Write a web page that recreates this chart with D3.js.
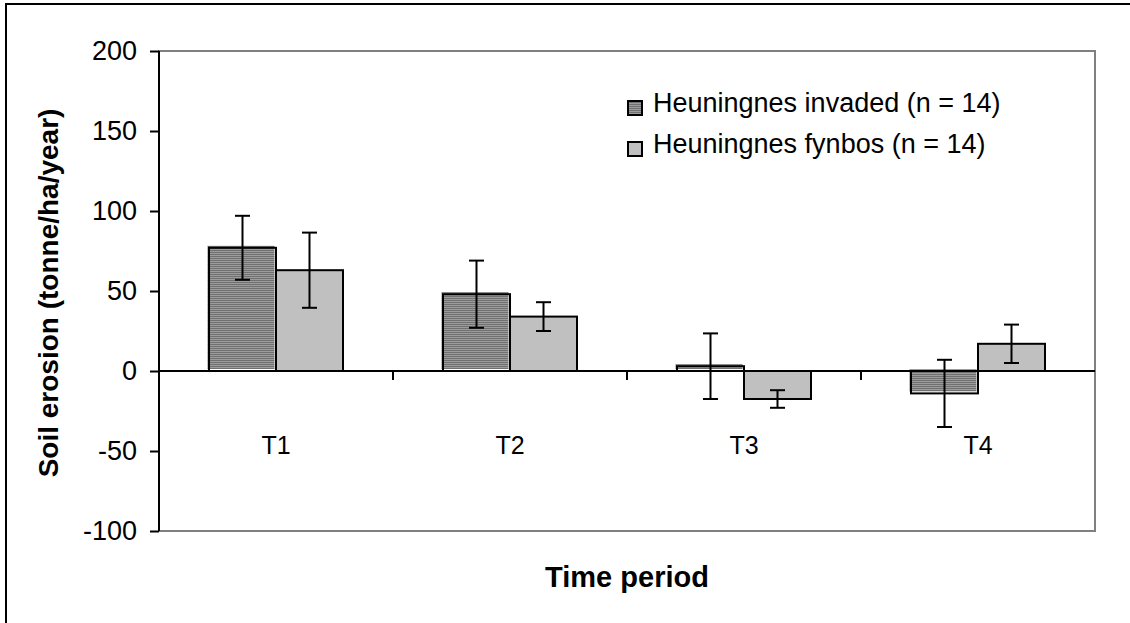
<!DOCTYPE html>
<html>
<head>
<meta charset="utf-8">
<script src="https://cdn.jsdelivr.net/npm/d3@7"></script>
<style>
  html, body { margin: 0; padding: 0; background: #fff; }
  svg { display: block; font-family: "Liberation Sans", Arial, sans-serif; }
</style>
</head>
<body>
<svg id="chart" width="1130" height="623"></svg>
<script>
const categories = ["T1", "T2", "T3", "T4"];
const seriesNames = ["Heuningnes invaded (n = 14)", "Heuningnes fynbos (n = 14)"];
const invaded = [77, 48, 3, -14];
const invadedErr = [20, 21, 20.5, 21];
const fynbos = [63, 34, -17.5, 17];
const fynbosErr = [23.5, 9, 5.5, 12];
const yTicks = [-100, -50, 0, 50, 100, 150, 200];

const svg = d3.select("#chart");
const pLeft = 159, pRight = 1095, pTop = 51, pBottom = 531;

// pattern for dark bars
const defs = svg.append("defs");
const pat = defs.append("pattern").attr("id", "hatch")
  .attr("patternUnits", "userSpaceOnUse").attr("width", 4).attr("height", 2);
pat.append("rect").attr("width", 4).attr("height", 1).attr("fill", "#707070");
pat.append("rect").attr("y", 1).attr("width", 4).attr("height", 1).attr("fill", "#9c9c9c");

// outer border
svg.append("rect").attr("x", 6).attr("y", 4).attr("width", 1140).attr("height", 640)
  .attr("fill", "none").attr("stroke", "#000").attr("stroke-width", 2);

const x = d3.scaleBand().domain(categories).range([pLeft, pRight]).padding(0);
const y = d3.scaleLinear().domain([-100, 200]).range([pBottom, pTop]);

// plot area border (grey)
svg.append("rect").attr("x", pLeft).attr("y", pTop).attr("width", pRight - pLeft).attr("height", pBottom - pTop)
  .attr("fill", "none").attr("stroke", "#808080").attr("stroke-width", 2);

const barW = 67;
const series = [
  { vals: invaded, errs: invadedErr, fill: "url(#hatch)", off: -barW, offset: true },
  { vals: fynbos, errs: fynbosErr, fill: "#c0c0c0", off: 0, offset: false }
];

series.forEach(s => {
  const g = svg.append("g");
  categories.forEach((c, i) => {
    const cx = x(c) + x.bandwidth() / 2;
    const v = s.vals[i];
    const y0 = y(Math.max(0, v)), y1 = y(Math.min(0, v));
    const dx = s.offset ? -1.5 : 0, dy = s.offset ? -2 : 0;
    g.append("rect").attr("x", cx + s.off + dx).attr("y", y0 + dy)
      .attr("width", barW).attr("height", y1 - y0)
      .attr("fill", s.fill);
    g.append("rect").attr("x", cx + s.off).attr("y", y0)
      .attr("width", barW).attr("height", y1 - y0)
      .attr("fill", "none").attr("stroke", "#000").attr("stroke-width", 2);
  });
});

// zero axis with category labels
const xAxis = svg.append("g").attr("transform", `translate(0,${y(0)})`)
  .call(d3.axisBottom(x).tickSize(0).tickPadding(65));
xAxis.select(".domain").attr("stroke", "#000").attr("stroke-width", 2).attr("d", `M${pLeft},0H${pRight}`);
xAxis.selectAll("text").attr("font-size", 25).attr("fill", "#000")
  .attr("font-family", "Liberation Sans, Arial, sans-serif");
// boundary ticks
categories.slice(0, -1).forEach(c => {
  const bx = x(c) + x.bandwidth();
  xAxis.append("line").attr("x1", bx).attr("x2", bx).attr("y1", 0).attr("y2", 9)
    .attr("stroke", "#000").attr("stroke-width", 2);
});

// error bars
series.forEach(s => {
  const g = svg.append("g");
  categories.forEach((c, i) => {
    const cx = x(c) + x.bandwidth() / 2 + s.off + barW / 2;
    const v = s.vals[i], e = s.errs[i];
    g.append("line").attr("x1", cx).attr("x2", cx).attr("y1", y(v + e)).attr("y2", y(v - e))
      .attr("stroke", "#000").attr("stroke-width", 2);
    [v + e, v - e].forEach(t => {
      g.append("line").attr("x1", cx - 7.5).attr("x2", cx + 7.5).attr("y1", y(t)).attr("y2", y(t))
        .attr("stroke", "#000").attr("stroke-width", 2);
    });
  });
});

// y axis
const yAxis = svg.append("g").attr("transform", `translate(${pLeft},0)`)
  .call(d3.axisLeft(y).tickValues(yTicks).tickSize(9).tickPadding(13).tickFormat(d => String(d)));
yAxis.select(".domain").attr("stroke", "#000").attr("stroke-width", 2).attr("d", `M0,${pTop}V${pBottom}`);
yAxis.selectAll(".tick line").attr("stroke", "#000").attr("stroke-width", 2);
yAxis.selectAll("text").attr("font-size", 27).attr("fill", "#000")
  .attr("font-family", "Liberation Sans, Arial, sans-serif");

// axis titles
svg.append("text").attr("transform", `translate(58,${(pTop + pBottom) / 2 + 2}) rotate(-90)`)
  .attr("text-anchor", "middle").attr("font-weight", "bold").attr("font-size", 28)
  .text("Soil erosion (tonne/ha/year)");
svg.append("text").attr("x", (pLeft + pRight) / 2).attr("y", 587)
  .attr("text-anchor", "middle").attr("font-weight", "bold").attr("font-size", 29)
  .text("Time period");

// legend
const legend = svg.append("g");
const fills = ["url(#hatch)", "#c0c0c0"];
seriesNames.forEach((n, i) => {
  const ly = 112 + i * 41;
  legend.append("rect").attr("x", 628).attr("y", ly - 11).attr("width", 14).attr("height", 14)
    .attr("fill", fills[i]).attr("stroke", "#000").attr("stroke-width", 2);
  legend.append("text").attr("x", 653).attr("y", ly).attr("font-size", 27).text(n);
});
</script>
</body>
</html>
